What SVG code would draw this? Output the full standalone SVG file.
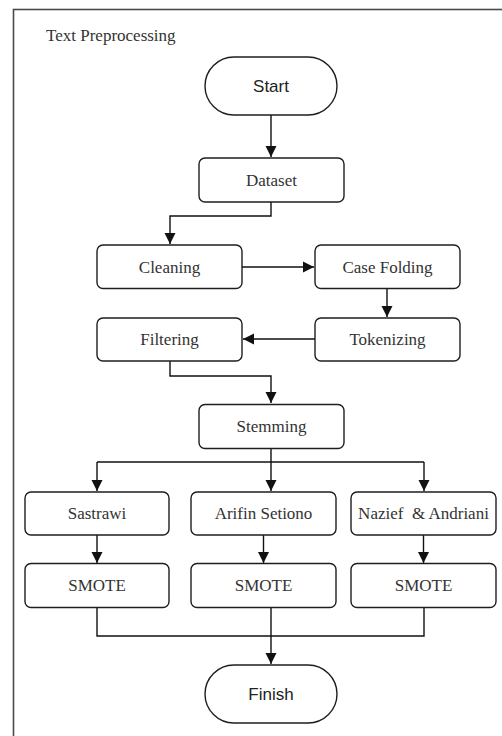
<svg xmlns="http://www.w3.org/2000/svg" width="502" height="736" viewBox="0 0 502 736">
<defs>
<marker id="arr" markerUnits="userSpaceOnUse" markerWidth="12" markerHeight="12" viewBox="0 0 12 12" refX="11" refY="6" orient="auto">
<path d="M0,0.5 L11,6 L0,11.5 z" fill="#111"/>
</marker>
<style>
.box{fill:#fff;stroke:#1e1e1e;stroke-width:1.4}
.t{font-family:"Liberation Serif","Times New Roman",serif;font-size:17px;fill:#333;text-anchor:middle}
.s{font-family:"Liberation Sans",Arial,sans-serif;font-size:17px;fill:#222;text-anchor:middle}
.c{fill:none;stroke:#111;stroke-width:1.4}
</style>
</defs>
<rect width="502" height="736" fill="#fff"/>
<rect x="13.5" y="9.5" width="520" height="760" fill="none" stroke="#4a4a4a" stroke-width="1.6"/>
<text x="46" y="41" font-family="'Liberation Serif','Times New Roman',serif" font-size="17" fill="#333">Text Preprocessing</text>

<g id="connectors">
<path class="c" d="M271 115 V157" marker-end="url(#arr)"/>
<path class="c" d="M271 202 V216 H170 V244" marker-end="url(#arr)"/>
<path class="c" d="M242 267 H314" marker-end="url(#arr)"/>
<path class="c" d="M387 288 V317" marker-end="url(#arr)"/>
<path class="c" d="M315 339 H243" marker-end="url(#arr)"/>
<path class="c" d="M170 361 V376 H271 V403" marker-end="url(#arr)"/>
<path class="c" d="M97 462 H424"/>
<path class="c" d="M271 448 V491" marker-end="url(#arr)"/>
<path class="c" d="M97 462 V491" marker-end="url(#arr)"/>
<path class="c" d="M424 462 V491" marker-end="url(#arr)"/>
<path class="c" d="M97 535 V563" marker-end="url(#arr)"/>
<path class="c" d="M263.5 535 V563" marker-end="url(#arr)"/>
<path class="c" d="M423.5 535 V563" marker-end="url(#arr)"/>
<path class="c" d="M97 608 V636 H424 V608"/>
<path class="c" d="M271 608 V664" marker-end="url(#arr)"/>
</g>

<g id="start"><rect class="box" x="205" y="57" width="132" height="58" rx="29"/><text class="s" x="271" y="91.5">Start</text></g>
<g id="dataset"><rect class="box" x="199" y="158" width="145" height="44" rx="6"/><text class="t" x="271.5" y="186">Dataset</text></g>
<g id="cleaning"><rect class="box" x="97" y="245" width="145" height="43.5" rx="6"/><text class="t" x="169.5" y="272.5">Cleaning</text></g>
<g id="casefolding"><rect class="box" x="315" y="245" width="145" height="43.5" rx="6"/><text class="t" x="387.5" y="272.5">Case Folding</text></g>
<g id="filtering"><rect class="box" x="97" y="318" width="145" height="43" rx="6"/><text class="t" x="169.5" y="345">Filtering</text></g>
<g id="tokenizing"><rect class="box" x="315" y="318" width="145" height="43" rx="6"/><text class="t" x="387.5" y="345">Tokenizing</text></g>
<g id="stemming"><rect class="box" x="199" y="404.5" width="145" height="44" rx="6"/><text class="t" x="271.5" y="432">Stemming</text></g>
<g id="sastrawi"><rect class="box" x="25" y="492" width="144" height="43" rx="6"/><text class="t" x="97" y="519">Sastrawi</text></g>
<g id="arifin"><rect class="box" x="191" y="492" width="145" height="43" rx="6"/><text class="t" x="263.5" y="519">Arifin Setiono</text></g>
<g id="nazief"><rect class="box" x="351" y="492" width="145" height="43" rx="6"/><text class="t" x="423.5" y="519">Nazief&#160; &amp; Andriani</text></g>
<g id="smote1"><rect class="box" x="25" y="563.5" width="144" height="44" rx="6"/><text class="t" x="97" y="591">SMOTE</text></g>
<g id="smote2"><rect class="box" x="191" y="563.5" width="145" height="44" rx="6"/><text class="t" x="263.5" y="591">SMOTE</text></g>
<g id="smote3"><rect class="box" x="351" y="563.5" width="145" height="44" rx="6"/><text class="t" x="423.5" y="591">SMOTE</text></g>
<g id="finish"><rect class="box" x="205" y="665" width="132" height="58" rx="29"/><text class="s" x="271" y="700">Finish</text></g>
</svg>
